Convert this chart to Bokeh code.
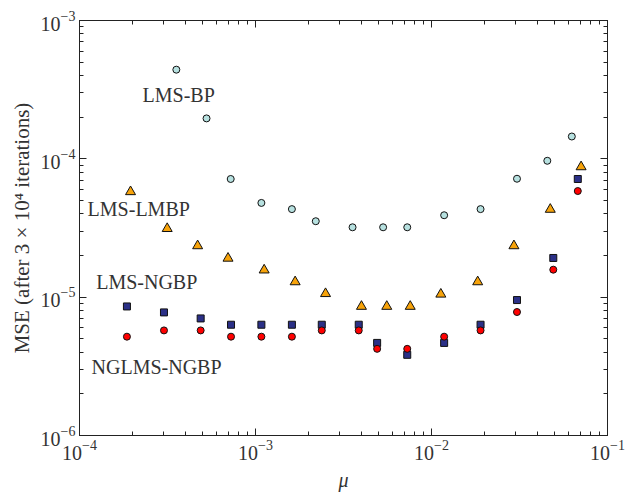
from bokeh.plotting import figure
from bokeh.models import LogAxis, LogTicker, Label, Range1d, CustomJSTickFormatter
from bokeh.embed import file_html
from bokeh.resources import INLINE

# ---- data ----
mu_bp = [3.55e-4, 5.27e-4, 7.23e-4, 1.08e-3, 1.61e-3, 2.2e-3, 3.56e-3, 5.31e-3,
         7.28e-3, 1.18e-2, 1.9e-2, 3.06e-2, 4.55e-2, 6.27e-2]
mse_bp = [4.41e-4, 1.96e-4, 7.15e-5, 4.8e-5, 4.33e-5, 3.54e-5, 3.2e-5, 3.2e-5,
          3.2e-5, 3.91e-5, 4.33e-5, 7.18e-5, 9.68e-5, 1.45e-4]

mu_lmbp = [1.95e-4, 3.15e-4, 4.69e-4, 6.98e-4, 1.12e-3, 1.68e-3, 2.5e-3, 4.0e-3,
           5.57e-3, 7.57e-3, 1.13e-2, 1.83e-2, 2.94e-2, 4.73e-2, 7.08e-2]
mse_lmbp = [5.78e-5, 3.13e-5, 2.35e-5, 1.91e-5, 1.57e-5, 1.29e-5, 1.06e-5, 8.57e-6,
            8.57e-6, 8.57e-6, 1.05e-5, 1.29e-5, 2.35e-5, 4.31e-5, 8.75e-5]

mu_ng = [1.86e-4, 3.02e-4, 4.88e-4, 7.26e-4, 1.08e-3, 1.61e-3, 2.38e-3, 3.86e-3,
         4.91e-3, 7.28e-3, 1.18e-2, 1.9e-2, 3.06e-2, 4.92e-2, 6.78e-2]
mse_ngbp = [8.57e-6, 7.76e-6, 7.02e-6, 6.32e-6, 6.32e-6, 6.32e-6, 6.32e-6, 6.32e-6,
            4.67e-6, 3.83e-6, 4.67e-6, 6.32e-6, 9.53e-6, 1.92e-5, 7.15e-5]
mse_nglms = [5.18e-6, 5.75e-6, 5.75e-6, 5.18e-6, 5.18e-6, 5.18e-6, 5.75e-6, 5.75e-6,
             4.23e-6, 4.23e-6, 5.18e-6, 5.75e-6, 7.81e-6, 1.58e-5, 5.85e-5]

series_names = ["LMS-BP", "LMS-LMBP", "LMS-NGBP", "NGLMS-NGBP"]

FONT = "Liberation Serif"
TXT = "#333333"

p = figure(width=642, height=493, x_axis_type="log", y_axis_type="log",
           x_range=Range1d(1e-4, 1e-1), y_range=Range1d(1e-6, 1e-3),
           output_backend="svg", toolbar_location=None,
           min_border_left=79, min_border_right=35, min_border_top=20, min_border_bottom=57)
p.xgrid.visible = False
p.ygrid.visible = False
p.outline_line_color = "#222222"
p.outline_line_width = 1
p.background_fill_color = "white"
p.border_fill_color = "white"

p.xaxis.ticker = LogTicker(num_minor_ticks=10)
p.yaxis.ticker = LogTicker(num_minor_ticks=10)

def style_axis(ax, show_labels=True):
    ax.axis_line_color = "#222222"
    ax.major_tick_line_color = "#222222"
    ax.minor_tick_line_color = "#222222"
    ax.major_tick_in = 7
    ax.major_tick_out = 0
    ax.minor_tick_in = 4
    ax.minor_tick_out = 0
    ax.major_label_text_font = FONT
    ax.major_label_text_color = TXT
    ax.axis_label_text_font = FONT
    ax.axis_label_text_color = TXT
    ax.major_label_text_font_size = "20px"
    if show_labels:
        ax.major_label_standoff = 4
    else:
        ax.formatter = CustomJSTickFormatter(code="return ' '")
        ax.major_label_text_alpha = 0
        ax.major_label_text_font_size = "10px"
        ax.major_label_standoff = 0

for ax in p.xaxis + p.yaxis:
    style_axis(ax)

p.xaxis.axis_label = "μ"
p.xaxis.axis_label_text_font_style = "italic"
p.xaxis.axis_label_text_font_size = "20px"
p.xaxis.axis_label_standoff = 6

p.yaxis.axis_label = "MSE (after 3 × 10⁴ iterations)"
p.yaxis.axis_label_text_font_style = "normal"
p.yaxis.axis_label_text_font_size = "21px"
p.yaxis.axis_label_standoff = 4

top = LogAxis(ticker=LogTicker(num_minor_ticks=10))
right = LogAxis(ticker=LogTicker(num_minor_ticks=10))
style_axis(top, False)
style_axis(right, False)
p.add_layout(top, "above")
p.add_layout(right, "right")

# markers
p.scatter(mu_bp, mse_bp, marker="circle", size=7, fill_color="#b7e1e0",
          line_color="#111111", line_width=1)
p.scatter(mu_lmbp, mse_lmbp, marker="triangle", size=10, fill_color="#f7a30a",
          line_color="#111111", line_width=1)
p.scatter(mu_ng, mse_ngbp, marker="square", size=7, fill_color="#2b3087",
          line_color="#111111", line_width=1)
p.scatter(mu_ng, mse_nglms, marker="circle", size=7, fill_color="#ff0000",
          line_color="#111111", line_width=1)

label_pos = [(3.66e-4, 2.88e-4), (2.17e-4, 4.34e-5), (2.41e-4, 1.29e-5), (2.74e-4, 3.15e-6)]
for name, (lx, ly) in zip(series_names, label_pos):
    p.add_layout(Label(x=lx, y=ly, text=name, text_font=FONT, text_font_size="20px",
                       text_color=TXT, text_align="center", text_baseline="middle"))

open("out.html", "w").write(file_html(p, INLINE))
